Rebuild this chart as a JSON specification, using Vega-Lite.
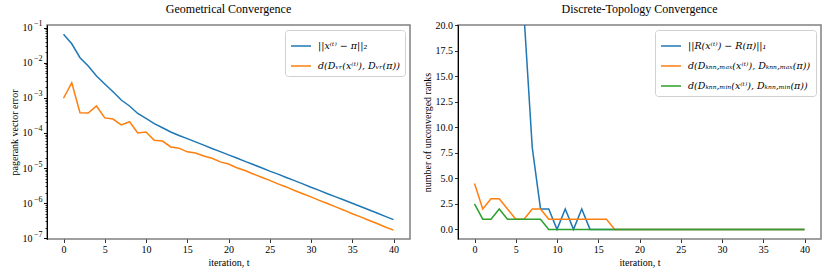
{
  "$schema": "https://vega.github.io/schema/vega-lite/v6.json",
  "padding": {"left": 8, "top": 2, "right": 5, "bottom": 5},
  "spacing": 10,
  "config": {
    "font": "Liberation Serif",
    "view": {"stroke": "#808080", "strokeWidth": 1.5},
    "axis": {
      "labelFont": "Liberation Serif",
      "titleFont": "Liberation Serif",
      "labelFontSize": 10,
      "titleFontSize": 10,
      "titleFontWeight": "normal",
      "labelColor": "#000",
      "titleColor": "#000",
      "tickColor": "#000",
      "tickSize": 3.5,
      "tickWidth": 0.8,
      "grid": false,
      "labelPadding": 2,
      "titlePadding": 3,
      "labelOverlap": false,
      "labelFlush": false
    },
    "legend": {
      "labelFont": "DejaVu Serif",
      "labelFontSize": 9.5,
      "labelFontStyle": "italic",
      "labelColor": "#000",
      "symbolType": "stroke",
      "symbolSize": 400,
      "symbolStrokeWidth": 1.5,
      "labelOffset": 6,
      "rowPadding": 4,
      "padding": 5,
      "strokeColor": "#d0d0d0",
      "cornerRadius": 3,
      "fillColor": "white",
      "orient": "top-right",
      "offset": 5,
      "title": null
    },
    "title": {"font": "Liberation Serif", "fontSize": 12, "fontWeight": "normal", "color": "#000", "offset": 4}
  },
  "datasets": {
    "geo": [
      {"t": 0, "series": "||x⁽ᵗ⁾ − π||₂", "value": 6.5e-2},
      {"t": 1, "series": "||x⁽ᵗ⁾ − π||₂", "value": 3.5e-2},
      {"t": 2, "series": "||x⁽ᵗ⁾ − π||₂", "value": 1.4e-2},
      {"t": 3, "series": "||x⁽ᵗ⁾ − π||₂", "value": 8.1e-3},
      {"t": 4, "series": "||x⁽ᵗ⁾ − π||₂", "value": 4.2e-3},
      {"t": 5, "series": "||x⁽ᵗ⁾ − π||₂", "value": 2.5e-3},
      {"t": 6, "series": "||x⁽ᵗ⁾ − π||₂", "value": 1.5e-3},
      {"t": 7, "series": "||x⁽ᵗ⁾ − π||₂", "value": 8.7e-4},
      {"t": 8, "series": "||x⁽ᵗ⁾ − π||₂", "value": 5.9e-4},
      {"t": 9, "series": "||x⁽ᵗ⁾ − π||₂", "value": 3.6e-4},
      {"t": 10, "series": "||x⁽ᵗ⁾ − π||₂", "value": 2.6e-4},
      {"t": 11, "series": "||x⁽ᵗ⁾ − π||₂", "value": 1.86e-4},
      {"t": 12, "series": "||x⁽ᵗ⁾ − π||₂", "value": 1.41e-4},
      {"t": 13, "series": "||x⁽ᵗ⁾ − π||₂", "value": 1.07e-4},
      {"t": 14, "series": "||x⁽ᵗ⁾ − π||₂", "value": 8.5e-5},
      {"t": 15, "series": "||x⁽ᵗ⁾ − π||₂", "value": 6.9e-5},
      {"t": 16, "series": "||x⁽ᵗ⁾ − π||₂", "value": 5.6e-5},
      {"t": 17, "series": "||x⁽ᵗ⁾ − π||₂", "value": 4.5e-5},
      {"t": 18, "series": "||x⁽ᵗ⁾ − π||₂", "value": 3.6e-5},
      {"t": 19, "series": "||x⁽ᵗ⁾ − π||₂", "value": 2.95e-5},
      {"t": 20, "series": "||x⁽ᵗ⁾ − π||₂", "value": 2.37e-5},
      {"t": 21, "series": "||x⁽ᵗ⁾ − π||₂", "value": 1.93e-5},
      {"t": 22, "series": "||x⁽ᵗ⁾ − π||₂", "value": 1.55e-5},
      {"t": 23, "series": "||x⁽ᵗ⁾ − π||₂", "value": 1.26e-5},
      {"t": 24, "series": "||x⁽ᵗ⁾ − π||₂", "value": 1.02e-5},
      {"t": 25, "series": "||x⁽ᵗ⁾ − π||₂", "value": 8.2e-6},
      {"t": 26, "series": "||x⁽ᵗ⁾ − π||₂", "value": 6.7e-6},
      {"t": 27, "series": "||x⁽ᵗ⁾ − π||₂", "value": 5.4e-6},
      {"t": 28, "series": "||x⁽ᵗ⁾ − π||₂", "value": 4.4e-6},
      {"t": 29, "series": "||x⁽ᵗ⁾ − π||₂", "value": 3.55e-6},
      {"t": 30, "series": "||x⁽ᵗ⁾ − π||₂", "value": 2.85e-6},
      {"t": 31, "series": "||x⁽ᵗ⁾ − π||₂", "value": 2.32e-6},
      {"t": 32, "series": "||x⁽ᵗ⁾ − π||₂", "value": 1.86e-6},
      {"t": 33, "series": "||x⁽ᵗ⁾ − π||₂", "value": 1.51e-6},
      {"t": 34, "series": "||x⁽ᵗ⁾ − π||₂", "value": 1.23e-6},
      {"t": 35, "series": "||x⁽ᵗ⁾ − π||₂", "value": 9.9e-7},
      {"t": 36, "series": "||x⁽ᵗ⁾ − π||₂", "value": 8.0e-7},
      {"t": 37, "series": "||x⁽ᵗ⁾ − π||₂", "value": 6.5e-7},
      {"t": 38, "series": "||x⁽ᵗ⁾ − π||₂", "value": 5.25e-7},
      {"t": 39, "series": "||x⁽ᵗ⁾ − π||₂", "value": 4.2e-7},
      {"t": 40, "series": "||x⁽ᵗ⁾ − π||₂", "value": 3.4e-7},
      {"t": 0, "series": "d(Dᵥᵣ(x⁽ᵗ⁾), Dᵥᵣ(π))", "value": 9.8e-4},
      {"t": 1, "series": "d(Dᵥᵣ(x⁽ᵗ⁾), Dᵥᵣ(π))", "value": 2.7e-3},
      {"t": 2, "series": "d(Dᵥᵣ(x⁽ᵗ⁾), Dᵥᵣ(π))", "value": 3.8e-4},
      {"t": 3, "series": "d(Dᵥᵣ(x⁽ᵗ⁾), Dᵥᵣ(π))", "value": 3.7e-4},
      {"t": 4, "series": "d(Dᵥᵣ(x⁽ᵗ⁾), Dᵥᵣ(π))", "value": 5.9e-4},
      {"t": 5, "series": "d(Dᵥᵣ(x⁽ᵗ⁾), Dᵥᵣ(π))", "value": 2.7e-4},
      {"t": 6, "series": "d(Dᵥᵣ(x⁽ᵗ⁾), Dᵥᵣ(π))", "value": 2.5e-4},
      {"t": 7, "series": "d(Dᵥᵣ(x⁽ᵗ⁾), Dᵥᵣ(π))", "value": 1.7e-4},
      {"t": 8, "series": "d(Dᵥᵣ(x⁽ᵗ⁾), Dᵥᵣ(π))", "value": 2.1e-4},
      {"t": 9, "series": "d(Dᵥᵣ(x⁽ᵗ⁾), Dᵥᵣ(π))", "value": 1.0e-4},
      {"t": 10, "series": "d(Dᵥᵣ(x⁽ᵗ⁾), Dᵥᵣ(π))", "value": 1.07e-4},
      {"t": 11, "series": "d(Dᵥᵣ(x⁽ᵗ⁾), Dᵥᵣ(π))", "value": 6.2e-5},
      {"t": 12, "series": "d(Dᵥᵣ(x⁽ᵗ⁾), Dᵥᵣ(π))", "value": 5.9e-5},
      {"t": 13, "series": "d(Dᵥᵣ(x⁽ᵗ⁾), Dᵥᵣ(π))", "value": 4.0e-5},
      {"t": 14, "series": "d(Dᵥᵣ(x⁽ᵗ⁾), Dᵥᵣ(π))", "value": 3.7e-5},
      {"t": 15, "series": "d(Dᵥᵣ(x⁽ᵗ⁾), Dᵥᵣ(π))", "value": 2.9e-5},
      {"t": 16, "series": "d(Dᵥᵣ(x⁽ᵗ⁾), Dᵥᵣ(π))", "value": 2.7e-5},
      {"t": 17, "series": "d(Dᵥᵣ(x⁽ᵗ⁾), Dᵥᵣ(π))", "value": 2.2e-5},
      {"t": 18, "series": "d(Dᵥᵣ(x⁽ᵗ⁾), Dᵥᵣ(π))", "value": 1.9e-5},
      {"t": 19, "series": "d(Dᵥᵣ(x⁽ᵗ⁾), Dᵥᵣ(π))", "value": 1.5e-5},
      {"t": 20, "series": "d(Dᵥᵣ(x⁽ᵗ⁾), Dᵥᵣ(π))", "value": 1.3e-5},
      {"t": 21, "series": "d(Dᵥᵣ(x⁽ᵗ⁾), Dᵥᵣ(π))", "value": 1.02e-5},
      {"t": 22, "series": "d(Dᵥᵣ(x⁽ᵗ⁾), Dᵥᵣ(π))", "value": 8.5e-6},
      {"t": 23, "series": "d(Dᵥᵣ(x⁽ᵗ⁾), Dᵥᵣ(π))", "value": 6.8e-6},
      {"t": 24, "series": "d(Dᵥᵣ(x⁽ᵗ⁾), Dᵥᵣ(π))", "value": 5.5e-6},
      {"t": 25, "series": "d(Dᵥᵣ(x⁽ᵗ⁾), Dᵥᵣ(π))", "value": 4.47e-6},
      {"t": 26, "series": "d(Dᵥᵣ(x⁽ᵗ⁾), Dᵥᵣ(π))", "value": 3.55e-6},
      {"t": 27, "series": "d(Dᵥᵣ(x⁽ᵗ⁾), Dᵥᵣ(π))", "value": 2.9e-6},
      {"t": 28, "series": "d(Dᵥᵣ(x⁽ᵗ⁾), Dᵥᵣ(π))", "value": 2.3e-6},
      {"t": 29, "series": "d(Dᵥᵣ(x⁽ᵗ⁾), Dᵥᵣ(π))", "value": 1.86e-6},
      {"t": 30, "series": "d(Dᵥᵣ(x⁽ᵗ⁾), Dᵥᵣ(π))", "value": 1.51e-6},
      {"t": 31, "series": "d(Dᵥᵣ(x⁽ᵗ⁾), Dᵥᵣ(π))", "value": 1.2e-6},
      {"t": 32, "series": "d(Dᵥᵣ(x⁽ᵗ⁾), Dᵥᵣ(π))", "value": 9.8e-7},
      {"t": 33, "series": "d(Dᵥᵣ(x⁽ᵗ⁾), Dᵥᵣ(π))", "value": 7.8e-7},
      {"t": 34, "series": "d(Dᵥᵣ(x⁽ᵗ⁾), Dᵥᵣ(π))", "value": 6.3e-7},
      {"t": 35, "series": "d(Dᵥᵣ(x⁽ᵗ⁾), Dᵥᵣ(π))", "value": 5.0e-7},
      {"t": 36, "series": "d(Dᵥᵣ(x⁽ᵗ⁾), Dᵥᵣ(π))", "value": 4.07e-7},
      {"t": 37, "series": "d(Dᵥᵣ(x⁽ᵗ⁾), Dᵥᵣ(π))", "value": 3.24e-7},
      {"t": 38, "series": "d(Dᵥᵣ(x⁽ᵗ⁾), Dᵥᵣ(π))", "value": 2.63e-7},
      {"t": 39, "series": "d(Dᵥᵣ(x⁽ᵗ⁾), Dᵥᵣ(π))", "value": 2.09e-7},
      {"t": 40, "series": "d(Dᵥᵣ(x⁽ᵗ⁾), Dᵥᵣ(π))", "value": 1.7e-7}
    ],
    "topo": [
      {"t": 0, "series": "||R(x⁽ᵗ⁾) − R(π)||₁", "value": 420},
      {"t": 1, "series": "||R(x⁽ᵗ⁾) − R(π)||₁", "value": 300},
      {"t": 2, "series": "||R(x⁽ᵗ⁾) − R(π)||₁", "value": 190},
      {"t": 3, "series": "||R(x⁽ᵗ⁾) − R(π)||₁", "value": 120},
      {"t": 4, "series": "||R(x⁽ᵗ⁾) − R(π)||₁", "value": 70},
      {"t": 5, "series": "||R(x⁽ᵗ⁾) − R(π)||₁", "value": 40},
      {"t": 6, "series": "||R(x⁽ᵗ⁾) − R(π)||₁", "value": 21},
      {"t": 7, "series": "||R(x⁽ᵗ⁾) − R(π)||₁", "value": 8},
      {"t": 8, "series": "||R(x⁽ᵗ⁾) − R(π)||₁", "value": 2},
      {"t": 9, "series": "||R(x⁽ᵗ⁾) − R(π)||₁", "value": 2},
      {"t": 10, "series": "||R(x⁽ᵗ⁾) − R(π)||₁", "value": 0},
      {"t": 11, "series": "||R(x⁽ᵗ⁾) − R(π)||₁", "value": 2},
      {"t": 12, "series": "||R(x⁽ᵗ⁾) − R(π)||₁", "value": 0},
      {"t": 13, "series": "||R(x⁽ᵗ⁾) − R(π)||₁", "value": 2},
      {"t": 14, "series": "||R(x⁽ᵗ⁾) − R(π)||₁", "value": 0},
      {"t": 20, "series": "||R(x⁽ᵗ⁾) − R(π)||₁", "value": 0},
      {"t": 40, "series": "||R(x⁽ᵗ⁾) − R(π)||₁", "value": 0},
      {"t": 0, "series": "d(Dₖₙₙ,ₘₐₓ(x⁽ᵗ⁾), Dₖₙₙ,ₘₐₓ(π))", "value": 4.5},
      {"t": 1, "series": "d(Dₖₙₙ,ₘₐₓ(x⁽ᵗ⁾), Dₖₙₙ,ₘₐₓ(π))", "value": 2},
      {"t": 2, "series": "d(Dₖₙₙ,ₘₐₓ(x⁽ᵗ⁾), Dₖₙₙ,ₘₐₓ(π))", "value": 3},
      {"t": 3, "series": "d(Dₖₙₙ,ₘₐₓ(x⁽ᵗ⁾), Dₖₙₙ,ₘₐₓ(π))", "value": 3},
      {"t": 4, "series": "d(Dₖₙₙ,ₘₐₓ(x⁽ᵗ⁾), Dₖₙₙ,ₘₐₓ(π))", "value": 2},
      {"t": 5, "series": "d(Dₖₙₙ,ₘₐₓ(x⁽ᵗ⁾), Dₖₙₙ,ₘₐₓ(π))", "value": 1},
      {"t": 6, "series": "d(Dₖₙₙ,ₘₐₓ(x⁽ᵗ⁾), Dₖₙₙ,ₘₐₓ(π))", "value": 1},
      {"t": 7, "series": "d(Dₖₙₙ,ₘₐₓ(x⁽ᵗ⁾), Dₖₙₙ,ₘₐₓ(π))", "value": 2},
      {"t": 8, "series": "d(Dₖₙₙ,ₘₐₓ(x⁽ᵗ⁾), Dₖₙₙ,ₘₐₓ(π))", "value": 2},
      {"t": 9, "series": "d(Dₖₙₙ,ₘₐₓ(x⁽ᵗ⁾), Dₖₙₙ,ₘₐₓ(π))", "value": 1},
      {"t": 16, "series": "d(Dₖₙₙ,ₘₐₓ(x⁽ᵗ⁾), Dₖₙₙ,ₘₐₓ(π))", "value": 1},
      {"t": 17, "series": "d(Dₖₙₙ,ₘₐₓ(x⁽ᵗ⁾), Dₖₙₙ,ₘₐₓ(π))", "value": 0},
      {"t": 40, "series": "d(Dₖₙₙ,ₘₐₓ(x⁽ᵗ⁾), Dₖₙₙ,ₘₐₓ(π))", "value": 0},
      {"t": 0, "series": "d(Dₖₙₙ,ₘᵢₙ(x⁽ᵗ⁾), Dₖₙₙ,ₘᵢₙ(π))", "value": 2.5},
      {"t": 1, "series": "d(Dₖₙₙ,ₘᵢₙ(x⁽ᵗ⁾), Dₖₙₙ,ₘᵢₙ(π))", "value": 1},
      {"t": 2, "series": "d(Dₖₙₙ,ₘᵢₙ(x⁽ᵗ⁾), Dₖₙₙ,ₘᵢₙ(π))", "value": 1},
      {"t": 3, "series": "d(Dₖₙₙ,ₘᵢₙ(x⁽ᵗ⁾), Dₖₙₙ,ₘᵢₙ(π))", "value": 2},
      {"t": 4, "series": "d(Dₖₙₙ,ₘᵢₙ(x⁽ᵗ⁾), Dₖₙₙ,ₘᵢₙ(π))", "value": 1},
      {"t": 8, "series": "d(Dₖₙₙ,ₘᵢₙ(x⁽ᵗ⁾), Dₖₙₙ,ₘᵢₙ(π))", "value": 1},
      {"t": 9, "series": "d(Dₖₙₙ,ₘᵢₙ(x⁽ᵗ⁾), Dₖₙₙ,ₘᵢₙ(π))", "value": 0},
      {"t": 40, "series": "d(Dₖₙₙ,ₘᵢₙ(x⁽ᵗ⁾), Dₖₙₙ,ₘᵢₙ(π))", "value": 0}
    ]
  },
  "hconcat": [
    {
      "width": 363,
      "height": 214,
      "title": "Geometrical Convergence",
      "data": {"name": "geo"},
      "encoding": {
        "x": {
          "field": "t", "type": "quantitative",
          "scale": {"domain": [-2, 42], "nice": false, "zero": false},
          "axis": {"title": "iteration, t", "values": [0, 5, 10, 15, 20, 25, 30, 35, 40], "domain": false}
        }
      },
      "layer": [
        {
          "mark": {"type": "line", "strokeWidth": 1.5, "clip": true},
          "encoding": {
            "y": {
              "field": "value", "type": "quantitative",
              "scale": {"type": "log", "domain": [9.5e-8, 0.12], "nice": false},
              "axis": {
                "title": "pagerank vector error",
                "orient": "left",
                "offset": 0,
                "labelPadding": 11.5,
                "domainColor": "#000",
                "domainWidth": 1,
                "values": [1e-7, 2e-7, 3e-7, 4e-7, 5e-7, 6e-7, 7e-7, 8e-7, 9e-7, 1e-6, 2e-6, 3e-6, 4e-6, 5e-6, 6e-6, 7e-6, 8e-6, 9e-6, 1e-5, 2e-5, 3e-5, 4e-5, 5e-5, 6e-5, 7e-5, 8e-5, 9e-5, 1e-4, 2e-4, 3e-4, 4e-4, 5e-4, 6e-4, 7e-4, 8e-4, 9e-4, 0.001, 0.002, 0.003, 0.004, 0.005, 0.006, 0.007, 0.008, 0.009, 0.01, 0.02, 0.03, 0.04, 0.05, 0.06, 0.07, 0.08, 0.09, 0.1],
                "tickSize": {"condition": {"test": "abs(log(datum.value)/LN10 - round(log(datum.value)/LN10)) < 0.001", "value": 3.5}, "value": 2},
                "labelExpr": "abs(log(datum.value)/LN10 - round(log(datum.value)/LN10)) < 0.001 ? '10' : ''"
              }
            },
            "color": {
              "field": "series", "type": "nominal",
              "scale": {"domain": ["||x⁽ᵗ⁾ − π||₂", "d(Dᵥᵣ(x⁽ᵗ⁾), Dᵥᵣ(π))"], "range": ["#1f77b4", "#ff7f0e"]},
              "legend": {"orient": "top-right"}
            }
          }
        },
        {
          "mark": {"type": "point", "opacity": 0, "clip": true},
          "encoding": {
            "y": {
              "field": "value", "type": "quantitative",
              "scale": {"type": "log", "domain": [9.5e-8, 0.12], "nice": false},
              "axis": {
                "title": null,
                "orient": "left",
                "offset": 0,
                "labelFontSize": 8,
                "labelPadding": 1.5,
                "labelOffset": -4,
                "domainColor": "#000",
                "domainWidth": 1,
                "values": [1e-7, 1e-6, 1e-5, 1e-4, 0.001, 0.01, 0.1],
                "labelExpr": "'−' + (-round(log(datum.value)/LN10))"
              }
            }
          }
        }
      ],
      "resolve": {"axis": {"y": "independent"}}
    },
    {
      "width": 363,
      "height": 214,
      "title": "Discrete-Topology Convergence",
      "data": {"name": "topo"},
      "mark": {"type": "line", "strokeWidth": 1.5, "clip": true},
      "encoding": {
        "x": {
          "field": "t", "type": "quantitative",
          "scale": {"domain": [-2, 42], "nice": false, "zero": false},
          "axis": {"title": "iteration, t", "values": [0, 5, 10, 15, 20, 25, 30, 35, 40], "domain": false}
        },
        "y": {
          "field": "value", "type": "quantitative",
          "scale": {"domain": [-0.94, 20], "nice": false, "zero": false},
          "axis": {
            "title": "number of unconverged ranks",
            "domainColor": "#000",
            "domainWidth": 1,
            "values": [0, 2.5, 5, 7.5, 10, 12.5, 15, 17.5, 20],
            "format": ".1f"
          }
        },
        "color": {
          "field": "series", "type": "nominal",
          "scale": {"domain": ["||R(x⁽ᵗ⁾) − R(π)||₁", "d(Dₖₙₙ,ₘₐₓ(x⁽ᵗ⁾), Dₖₙₙ,ₘₐₓ(π))", "d(Dₖₙₙ,ₘᵢₙ(x⁽ᵗ⁾), Dₖₙₙ,ₘᵢₙ(π))"], "range": ["#1f77b4", "#ff7f0e", "#2ca02c"]},
          "legend": {"orient": "top-right"}
        }
      }
    }
  ],
  "resolve": {"scale": {"color": "independent", "x": "independent", "y": "independent"}, "legend": {"color": "independent"}}
}
